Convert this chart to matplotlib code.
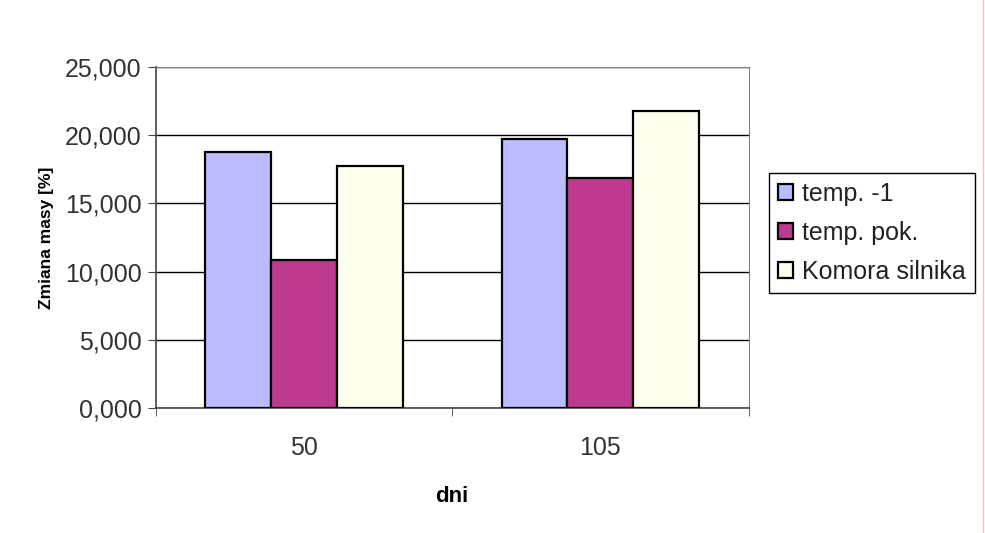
import matplotlib.pyplot as plt
import numpy as np
from matplotlib.lines import Line2D
from matplotlib.ticker import FuncFormatter

plt.rcParams["font.family"] = ["Liberation Sans", "DejaVu Sans"]

# data
days = ["50", "105"]
temp_minus1 = [18.80, 19.70]
temp_pok = [10.85, 16.85]
komora = [17.75, 21.80]

series = ["temp. -1", "temp. pok.", "Komora silnika"]
colors = ["#bbbbff", "#bd3a90", "#ffffee"]

fig = plt.figure(figsize=(9.85, 5.33), dpi=100)
ax = fig.add_axes([0.158, 0.2345, 0.602, 0.6395])

x = np.arange(len(days))
w = 0.222
for i, (vals, lab, c) in enumerate(zip([temp_minus1, temp_pok, komora], series, colors)):
    ax.bar(x + (i - 1) * w, vals, w, color=c, edgecolor="black", linewidth=1.6,
           label=lab, zorder=3)

ax.set_xlim(-0.5, 1.5)
ax.set_ylim(0, 25)
ax.set_yticks(np.arange(0, 26, 5))
ax.yaxis.set_major_formatter(FuncFormatter(lambda v, p: f"{v:.3f}".replace(".", ",")))
ax.yaxis.grid(True, color="black", linewidth=1, zorder=0)
ax.set_axisbelow(True)

ax.set_xticks(x)
ax.set_xticklabels(days)
ax.set_xticks([-0.5, 0.5, 1.5], minor=True)
ax.tick_params(axis="x", which="major", length=0, pad=20, labelsize=18, labelcolor="#333333")
ax.tick_params(axis="x", which="minor", length=6, direction="out", color="#444444")
ax.tick_params(axis="y", length=6, direction="out", labelsize=18, labelcolor="#333333",
               color="#444444", pad=4)

for s in ["top", "right"]:
    ax.spines[s].set_color("#808080")
for s in ["left", "bottom"]:
    ax.spines[s].set_color("#444444")
    ax.spines[s].set_linewidth(1.2)

ax.set_ylabel("Zmiana masy [%]", fontsize=12.5, fontweight="bold", labelpad=8)
ax.set_xlabel("dni", fontsize=16, fontweight="bold", labelpad=19)

leg = ax.legend(loc="upper left", bbox_to_anchor=(769 / 985, 1 - 173 / 533),
                bbox_transform=fig.transFigure, borderaxespad=0, fancybox=False,
                edgecolor="black", framealpha=1, fontsize=18, handlelength=0.62,
                handleheight=0.62, handletextpad=0.35, labelspacing=0.6,
                borderpad=0.35)
leg.get_frame().set_linewidth(1.0)
for t in leg.get_texts():
    t.set_color("#222222")

# thin pink line at the right edge of the slide
fig.add_artist(Line2D([983 / 985, 983 / 985], [0, 1], color="#f2c4c4", linewidth=1,
                      transform=fig.transFigure))

fig.savefig("out.png", dpi=100, facecolor="white")
